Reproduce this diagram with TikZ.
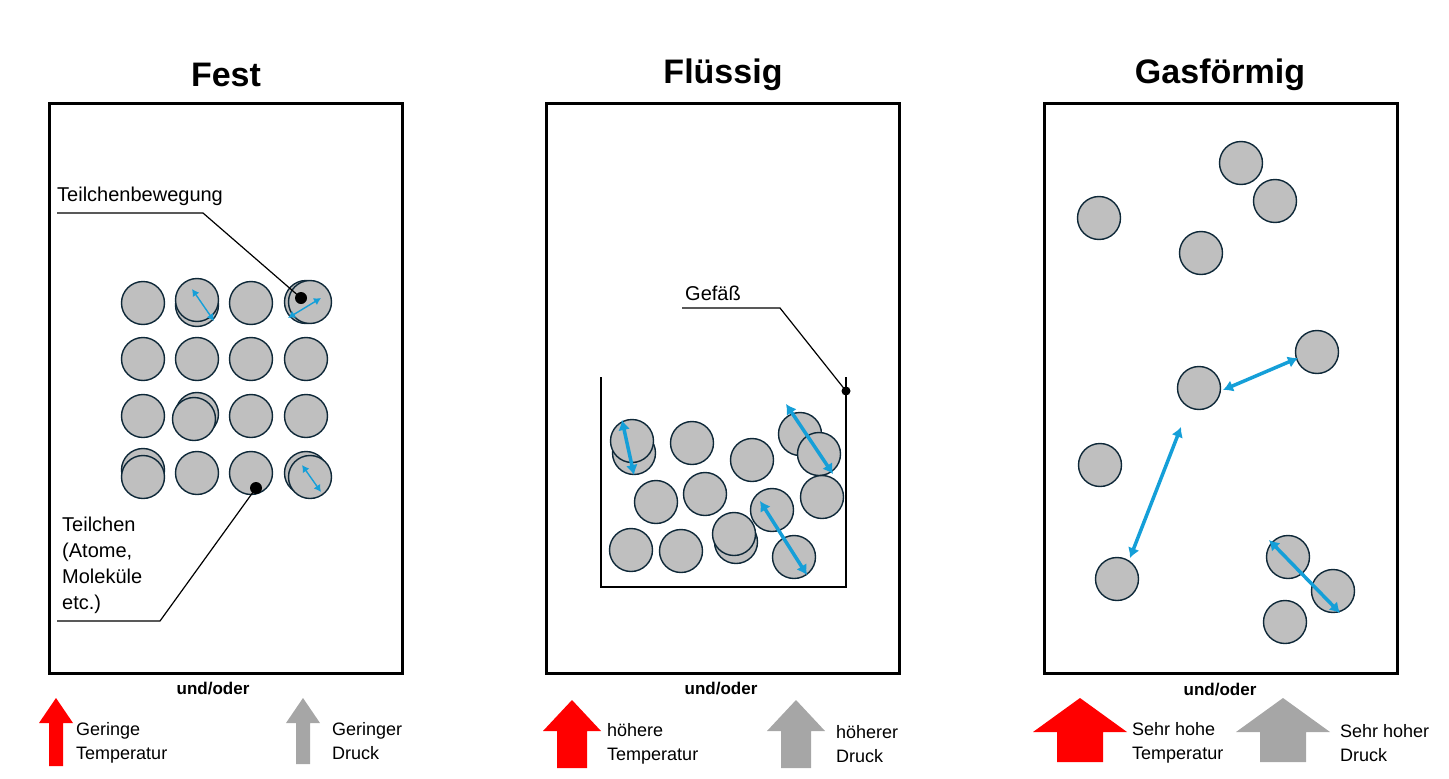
\documentclass[tikz,border=0pt]{standalone}
\usepackage{fontspec}
\setmainfont{Liberation Sans}
\usetikzlibrary{arrows.meta}
\definecolor{pfill}{HTML}{BFBFBF}
\definecolor{pline}{HTML}{0E2838}
\definecolor{pblue}{HTML}{159FD8}
\definecolor{pgray}{HTML}{A6A6A6}
\begin{document}
\begin{tikzpicture}[x=1pt,y=-1pt,
  p/.style={circle,fill=pfill,draw=pline,line width=1.4pt,minimum size=43pt,inner sep=0pt},
  box/.style={line width=3pt,draw=black},
  ttl/.style={font=\fontsize{34}{38}\selectfont\bfseries},
  lab/.style={font=\fontsize{20}{24}\selectfont,anchor=west,align=left,inner sep=0pt},
  und/.style={font=\fontsize{17}{20}\selectfont\bfseries},
  sa/.style={{Latex[length=7pt,width=8pt]}-{Latex[length=7pt,width=8pt]},pblue,line width=1.4pt},
  bb/.style={{Latex[length=10pt,width=12pt]}-{Latex[length=10pt,width=12pt]},pblue,line width=3.5pt},
  lead/.style={line width=1.2pt},
  dot/.style={circle,fill=black,inner sep=0pt,minimum size=12pt}]
\useasboundingbox (0,0) rectangle (1449,779);
% boxes
\draw[box] (49,103) rectangle (402,673);
\draw[box] (546,103) rectangle (899,673);
\draw[box] (1044,103) rectangle (1397,673);
\node[ttl] (t1) at (226,75) {Fest};
\node[ttl] (t2) at (723,75) {Flüssig};
\node[ttl] (t3) at (1220,75) {Gasförmig};
% Fest particles
\foreach \x/\y/\n in {143/303/a1,197/305/a2,197/300/a2b,251/303/a3,306/302/a4,310/302/a4b,
 143/359/b1,197/359/b2,251/359/b3,306/359/b4,
 143/416/c1,197/414/c2,194/419/c2b,251/416/c3,306/416/c4,
 143/470/d1,143/477/d1b,197/473/d2,251/473/d3,306/473/d4,310/477/d4b}
 \node[p] (\n) at (\x,\y) {};
\coordinate (s1) at (192,289); \coordinate (e1) at (214,321);
\coordinate (s2) at (288,318); \coordinate (e2) at (321,298);
\coordinate (s3) at (302,465); \coordinate (e3) at (321,492);
\draw[sa] (s1) -- (e1);
\draw[sa] (s2) -- (e2);
\draw[sa] (s3) -- (e3);
\node[lab] (l1) at (57,196) {Teilchenbewegung};
\node[dot] (d1) at (301,298) {};
\coordinate (k1) at (57,213); \coordinate (k2) at (203,213);
\draw[lead] (k1) -- (k2) -- (d1.center);
\node[lab,anchor=north west,font=\fontsize{20}{26}\selectfont] (l2) at (62,517) {Teilchen\\(Atome,\\Moleküle\\etc.)};
\node[dot] (d2) at (256,488) {};
\coordinate (k3) at (57,621); \coordinate (k4) at (160,621);
\draw[lead] (k3) -- (k4) -- (d2.center);
% Flüssig
\coordinate (g1) at (601,377); \coordinate (g2) at (601,587);
\coordinate (g3) at (846,587); \coordinate (g4) at (846,377);
\draw[line width=2pt] (g1) -- (g2) -- (g3) -- (g4);
\foreach \x/\y/\n in {634/453/f1,632/441/f1b,692/443/f2,752/460/f3,800/434/f4,819/454/f5,656/502/f6,705/494/f7,772/510/f8,822/497/f9,631/550/f10,681/551/f11,736/542/f12,734/534/f12b,794/557/f13}
 \node[p] (\n) at (\x,\y) {};
\coordinate (u1) at (622,420); \coordinate (v1) at (634,475);
\coordinate (u2) at (786,404); \coordinate (v2) at (833,474);
\coordinate (u3) at (760,501); \coordinate (v3) at (807,575);
\draw[bb] (u1) -- (v1);
\draw[bb] (u2) -- (v2);
\draw[bb] (u3) -- (v3);
\node[lab] (l3) at (685,293) {Gefäß};
\node[dot,minimum size=9pt] (d3) at (846,391) {};
\coordinate (k5) at (682,308); \coordinate (k6) at (780,308);
\draw[lead] (k5) -- (k6) -- (d3.center);
% Gas
\foreach \x/\y/\n in {1241/163/h1,1275/201/h2,1099/218/h3,1201/253/h4,1317/352/h5,1199/388/h6,1100/465/h7,1117/579/h8,1288/557/h9,1333/591/h10,1285/622/h11}
 \node[p] (\n) at (\x,\y) {};
\coordinate (w1) at (1223,390); \coordinate (z1) at (1298,358);
\coordinate (w2) at (1181,427); \coordinate (z2) at (1130,558);
\coordinate (w3) at (1269,540); \coordinate (z3) at (1340,613);
\draw[bb] (w1) -- (z1);
\draw[bb] (w2) -- (z2);
\draw[bb] (w3) -- (z3);
% bottom
\node[und] (u1t) at (213,689) {und/oder};
\node[und] (u2t) at (721,689) {und/oder};
\node[und] (u3t) at (1220,690) {und/oder};
\foreach \cx/\t/\hb/\bt/\hh/\hs/\c in {56/698/723/766/17/7/red,303/698/723/764/17/7/pgray,
  572/700/731/768/29/15/red,796/700/731/768/29/15/pgray,
  1080/698/732/762/47/23/red,1283/698/732/762/47/23/pgray}
 \fill[\c] (\cx,\t) -- (\cx+\hh,\hb) -- (\cx+\hs,\hb) -- (\cx+\hs,\bt) -- (\cx-\hs,\bt) -- (\cx-\hs,\hb) -- (\cx-\hh,\hb) -- cycle;
\tikzset{bl/.style={lab,font=\fontsize{18}{24}\selectfont}}
\node[bl] (x1) at (76,743) {Geringe\\Temperatur};
\node[bl] (x2) at (332,741) {Geringer\\Druck};
\node[bl] (x3) at (607,744) {höhere\\Temperatur};
\node[bl] (x4) at (836,744) {höherer\\Druck};
\node[bl] (x5) at (1132,743) {Sehr hohe\\Temperatur};
\node[bl] (x6) at (1340,743) {Sehr hoher\\Druck};
\end{tikzpicture}
\end{document}
